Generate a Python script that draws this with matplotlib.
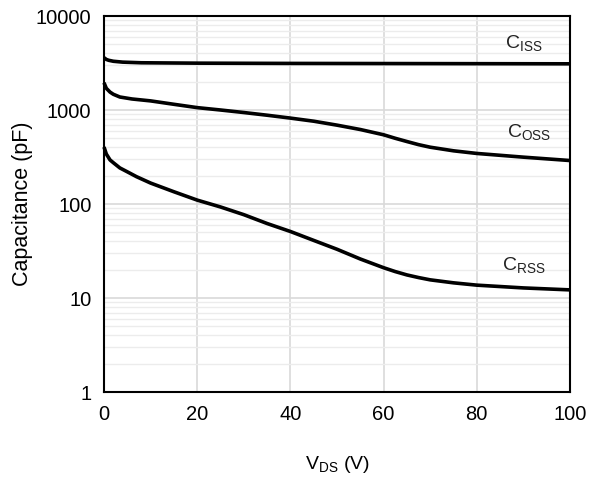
import numpy as np
import matplotlib
matplotlib.use("Agg")
import matplotlib.pyplot as plt
from matplotlib.ticker import LogLocator, FixedLocator, NullFormatter

plt.rcParams['font.family'] = ['Liberation Sans', 'DejaVu Sans']

# values (V_DS in V, capacitance in pF)
vds_iss = [0, 0.5, 1, 2, 4, 8, 20, 40, 60, 80, 100]
ciss = [3600, 3450, 3380, 3300, 3230, 3180, 3150, 3130, 3120, 3110, 3100]

vds_oss = [0, 0.5, 1.3, 2, 3.4, 6, 10, 15, 20, 25, 30, 35, 40, 45, 50, 55, 60, 62.5, 65,
           67.5, 70, 75, 80, 90, 100]
coss = [1950, 1700, 1550, 1470, 1375, 1310, 1250, 1150, 1060, 1000, 940, 880, 820, 760,
        690, 620, 545, 500, 462, 428, 402, 368, 345, 315, 290]

vds_rss = [0, 0.5, 1.3, 2, 3.4, 5, 7, 10, 15, 20, 25, 30, 35, 40, 45, 50, 55, 60, 62.5,
           65, 67.5, 70, 75, 80, 90, 100]
crss = [404, 340, 294, 275, 242, 220, 195, 167, 135, 110, 93, 77, 62, 51, 41, 33, 26,
        21, 19.1, 17.6, 16.5, 15.6, 14.5, 13.7, 12.8, 12.2]

labels = [("C", "ISS", 86, 5160), ("C", "OSS", 86.5, 583), ("C", "RSS", 85.5, 22.4)]

fig = plt.figure(figsize=(5.9, 4.79), dpi=100)
ax = fig.add_axes([104 / 590, 1 - 392 / 479, 466 / 590, 376 / 479])

ax.set_yscale('log')
ax.set_xlim(0, 100)
ax.set_ylim(1, 10000)

ax.xaxis.set_major_locator(FixedLocator([0, 20, 40, 60, 80, 100]))
ax.yaxis.set_minor_locator(LogLocator(base=10, subs=np.arange(2, 10), numticks=20))
ax.yaxis.set_minor_formatter(NullFormatter())
ax.set_yticks([1, 10, 100, 1000, 10000])
ax.set_yticklabels(['1', '10', '100', '1000', '10000'])

ax.grid(True, which='major', color='#d9d9d9', lw=1.2)
ax.grid(True, which='minor', axis='y', color='#ececec', lw=1.0)
ax.set_axisbelow(True)

for v, c in [(vds_iss, ciss), (vds_oss, coss), (vds_rss, crss)]:
    ax.plot(v, c, color='black', lw=2.6, solid_capstyle='butt', clip_on=False, zorder=3)

for base, sub, x, y in labels:
    ax.text(x, y, r'$\mathregular{%s_{%s}}$' % (base, sub), fontsize=14, ha='left',
            va='center', color='#222222')

for s in ax.spines.values():
    s.set_linewidth(1.5)
ax.tick_params(which='both', length=0, labelsize=14.5, pad=9)

ax.set_xlabel(r'$\mathregular{V_{DS}}$ (V)', fontsize=14, labelpad=22)
ax.set_ylabel('Capacitance (pF)', fontsize=15.5, labelpad=2)

fig.savefig('out.png', dpi=100)
